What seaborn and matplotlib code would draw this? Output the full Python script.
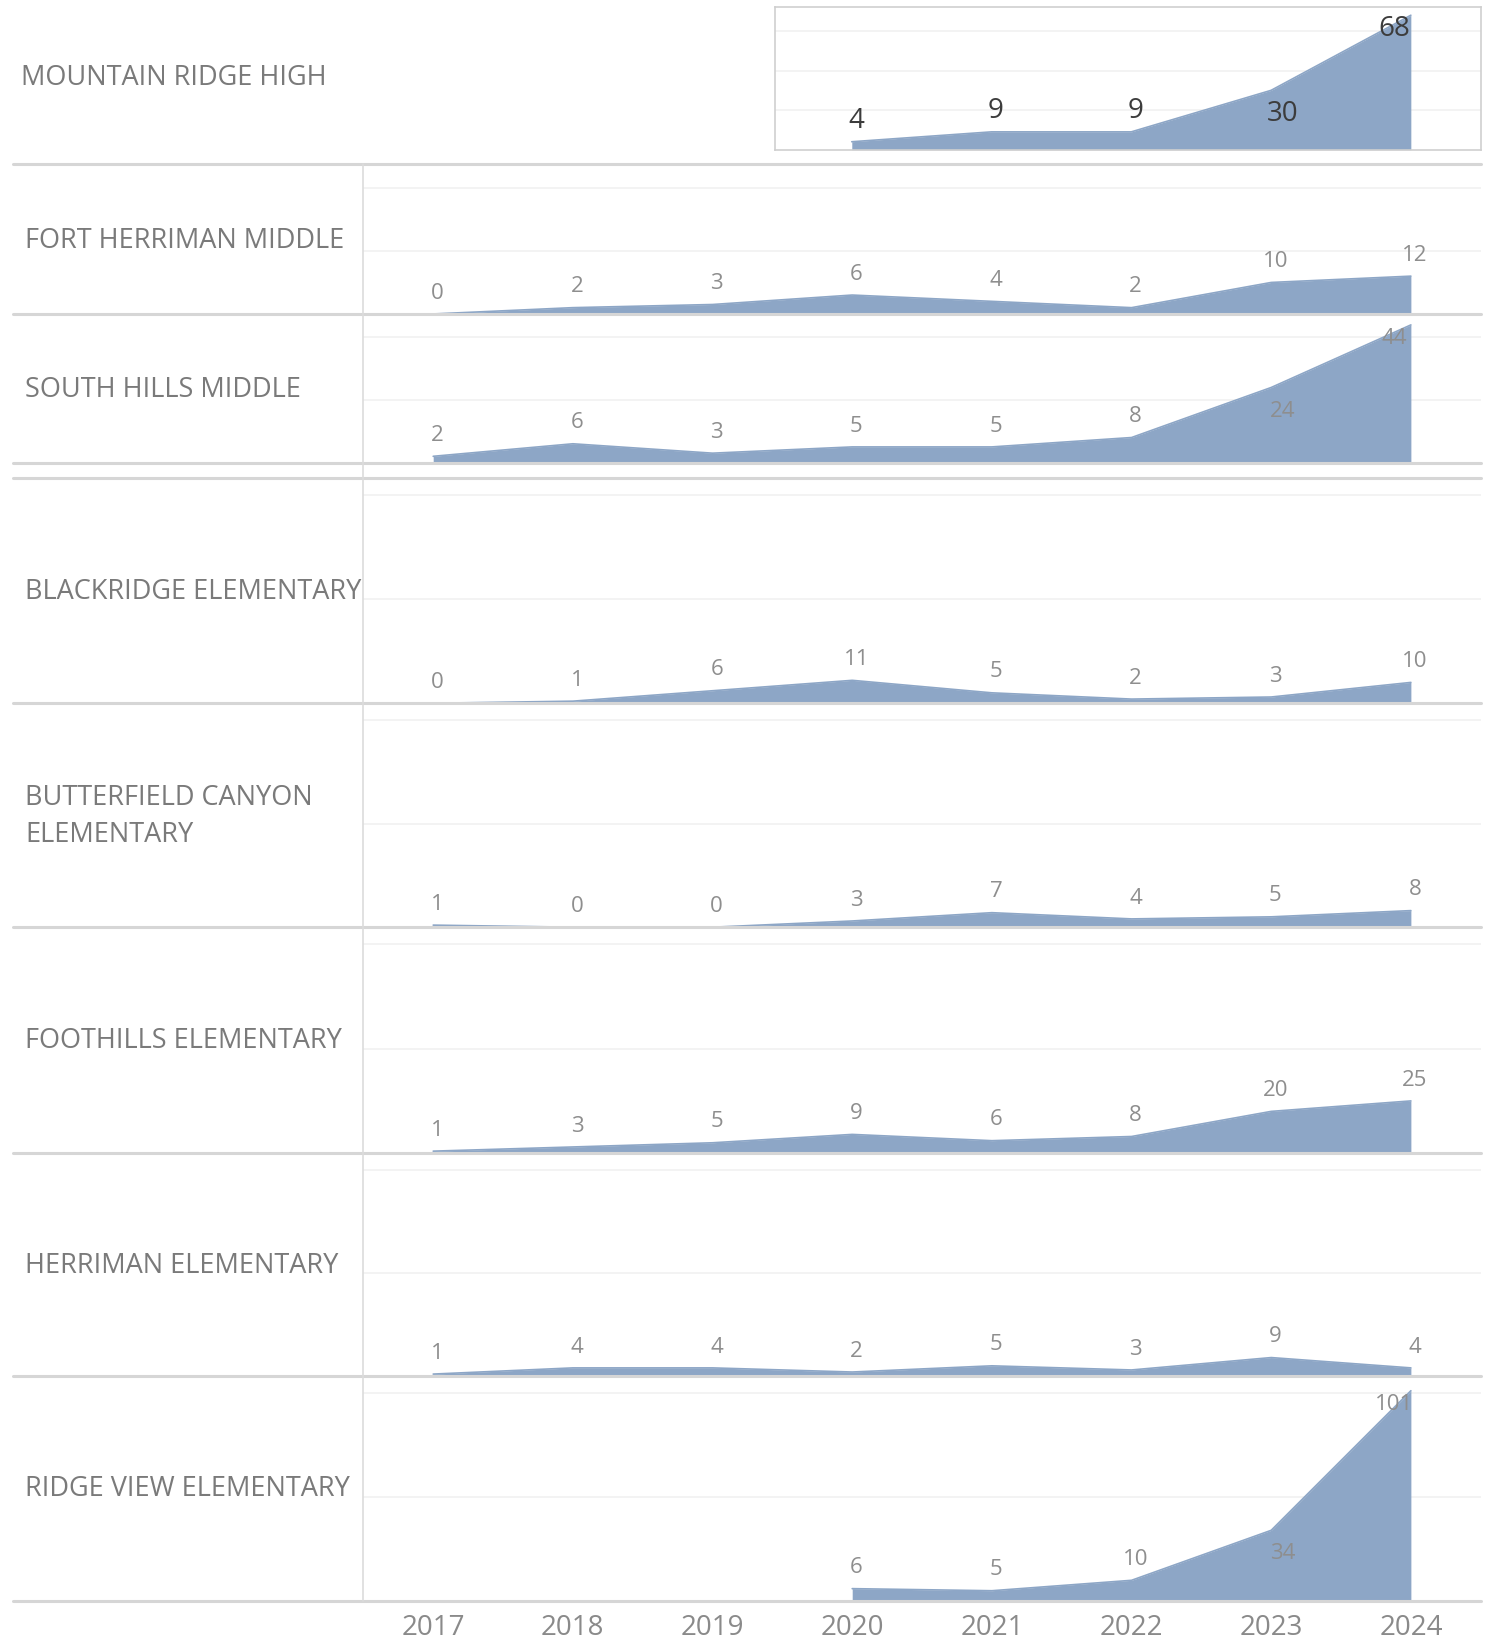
import matplotlib
matplotlib.use("Agg")
import matplotlib.pyplot as plt
from matplotlib.lines import Line2D
import seaborn as sns
import pandas as pd
import numpy as np

# ---------------- data ----------------
years = [2017, 2018, 2019, 2020, 2021, 2022, 2023, 2024]
years_recent = [2020, 2021, 2022, 2023, 2024]

mountain_ridge_high = [4, 9, 9, 30, 68]
fort_herriman_middle = [0, 2, 3, 6, 4, 2, 10, 12]
south_hills_middle = [2, 6, 3, 5, 5, 8, 24, 44]
blackridge_elementary = [0, 1, 6, 11, 5, 2, 3, 10]
butterfield_canyon_elementary = [1, 0, 0, 3, 7, 4, 5, 8]
foothills_elementary = [1, 3, 5, 9, 6, 8, 20, 25]
herriman_elementary = [1, 4, 4, 2, 5, 3, 9, 4]
ridge_view_elementary = [6, 5, 10, 34, 101]

school_names = ["MOUNTAIN RIDGE HIGH", "FORT HERRIMAN MIDDLE", "SOUTH HILLS MIDDLE",
                "BLACKRIDGE ELEMENTARY", "BUTTERFIELD CANYON\nELEMENTARY",
                "FOOTHILLS ELEMENTARY", "HERRIMAN ELEMENTARY", "RIDGE VIEW ELEMENTARY"]

# ---------------- style ----------------
sns.set_theme(style="white")
plt.rcParams['font.family'] = ['Open Sans', 'DejaVu Sans']

AREA = "#8da6c6"
LABEL_GREY = "#8e8e8e"
NAME_GREY = "#7a7a7a"
SEP = "#d6d6d6"
GRID = "#f1f1f1"

W, H = 1420.0, 1570.0  # reference layout units
fig = plt.figure(figsize=(14.87, 16.43), dpi=100)

def fx(x):
    return x / W

def fy(y):
    return 1 - y / H

def make_axes(x0, x1, y0, y1):
    return fig.add_axes([fx(x0), fy(y1), fx(x1) - fx(x0), (y1 - y0) / H])

def draw_area(ax, xs, vals, ymax, grid, big=False):
    df = pd.DataFrame({"year": xs, "value": vals})
    ax.fill_between(df["year"], 0, df["value"], color=AREA, linewidth=0, zorder=2)
    sns.lineplot(data=df, x="year", y="value", ax=ax, color=AREA, linewidth=1.2, zorder=3)
    ax.set_ylim(0, ymax)
    for g in grid:
        ax.axhline(g, color=GRID, linewidth=1.2, zorder=1)
    n = len(vals)
    for i, (x, v) in enumerate(zip(xs, vals)):
        below = v > 0.28 * ymax
        if big:
            fs, col = 20, "#3c3c3c"
        else:
            fs, col = 16, LABEL_GREY
        if below:
            if i == n - 1:
                off, dx = -10, -12
            else:
                off, dx = -17, 8
        else:
            off, dx = 15, 3
        ax.annotate(str(v), (x, v), xytext=(dx, off), textcoords="offset points",
                    ha="center", va="center", fontsize=fs, color=col, zorder=4)
    ax.set_xlabel("")
    ax.set_ylabel("")
    ax.set_yticks([])
    for s in ax.spines.values():
        s.set_visible(False)

# ---------------- top panel (Mountain Ridge High) ----------------
ax0 = make_axes(740, 1414, 7, 143)
draw_area(ax0, years_recent, mountain_ridge_high, 72, [20, 40, 60], big=True)
ax0.set_xlim(2019.45, 2024.5)
ax0.set_xticks([])
for s in ax0.spines.values():
    s.set_visible(True)
    s.set_color("#cfcfcf")
    s.set_linewidth(1.2)

# ---------------- remaining rows ----------------
rows = [
    (157, 300, years, fort_herriman_middle, 47.5, [20, 40]),
    (300, 442, years, south_hills_middle, 47.5, [20, 40]),
    (457, 672, years, blackridge_elementary, 108, [50, 100]),
    (672, 886, years, butterfield_canyon_elementary, 108, [50, 100]),
    (886, 1102, years, foothills_elementary, 108, [50, 100]),
    (1102, 1315, years, herriman_elementary, 108, [50, 100]),
    (1315, 1530, years_recent, ridge_view_elementary, 108, [50, 100]),
]
axes = []
for (y0, y1, xs, vals, ymax, grid) in rows:
    ax = make_axes(347, 1414, y0, y1)
    draw_area(ax, xs, vals, ymax, grid)
    ax.set_xlim(2016.5, 2024.5)
    ax.set_xticks([])
    axes.append(ax)

axb = axes[-1]
axb.set_xticks(years)
axb.set_xticklabels([str(y) for y in years], fontsize=20, color="#8a8a8a")
axb.tick_params(axis="x", length=0, pad=9)

# ---------------- school names ----------------
name_pos = [(20, 75), (24, 230), (24, 373), (24, 566), (24, 780),
            (24, 995), (24, 1210), (24, 1423)]
for name, (x, y) in zip(school_names, name_pos):
    fig.text(fx(x), fy(y), name, ha="left", va="center", fontsize=19.5,
             color=NAME_GREY, linespacing=1.45)

# ---------------- separators ----------------
for y in [157, 300, 442, 457, 672, 886, 1102, 1315, 1530]:
    fig.add_artist(Line2D([fx(12), fx(1414)], [fy(y), fy(y)], color=SEP,
                          linewidth=2.2, zorder=5))
fig.add_artist(Line2D([fx(347), fx(347)], [fy(157), fy(1530)], color="#dcdcdc",
                      linewidth=1.2, zorder=5))

fig.savefig("out.png", dpi=100, facecolor="white")
